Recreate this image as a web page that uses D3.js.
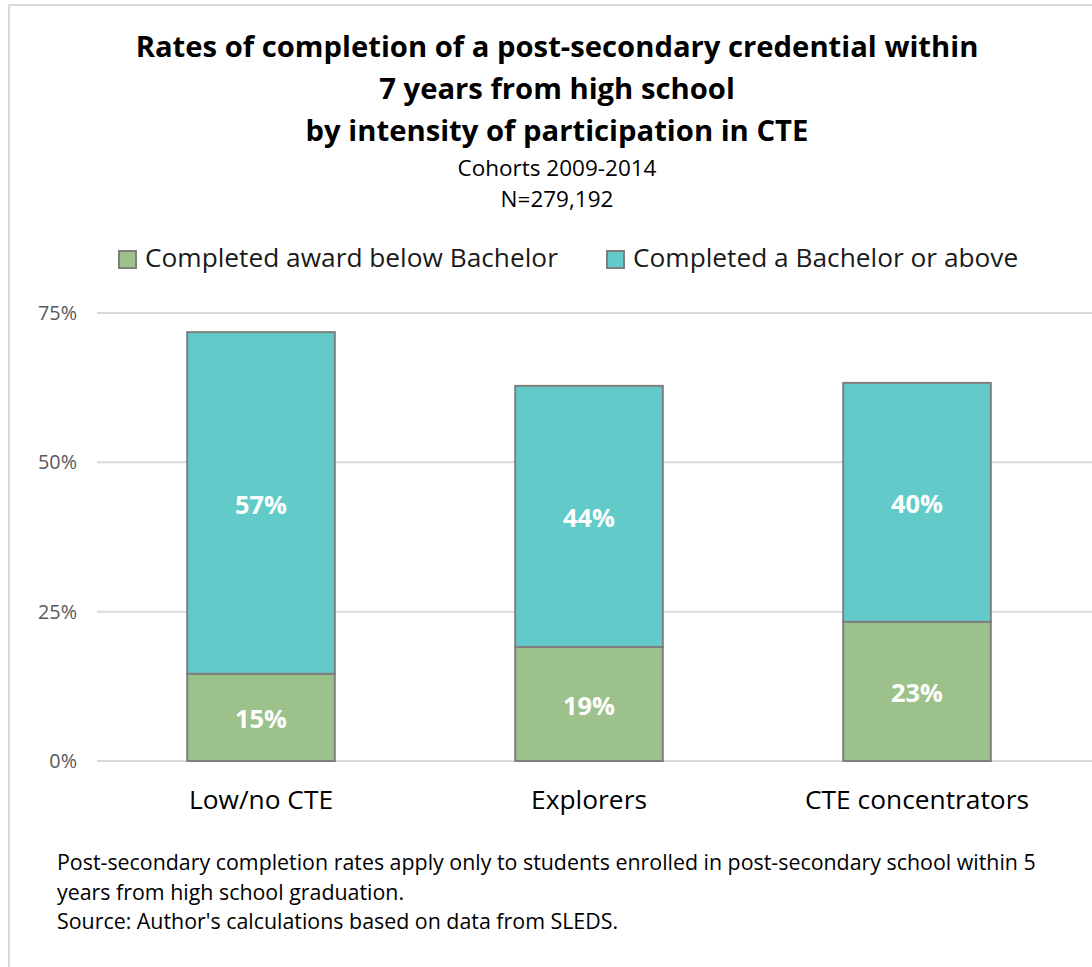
<!DOCTYPE html>
<html>
<head>
<meta charset="utf-8">
<script src="https://cdn.jsdelivr.net/npm/d3@7"></script>
<style>
  body { margin: 0; background: #fff; }
  text { font-family: "Open Sans", Lato, sans-serif; }
</style>
</head>
<body>
<div id="mount"></div>
<script>
// chart values
var categories = ['Low/no CTE', 'Explorers', 'CTE concentrators'];
var belowBachelor = [14.6, 19.1, 23.3];
var bachelorPlus = [57.2, 43.7, 40.0];
var belowLabels = ['15%', '19%', '23%'];
var bachelorLabels = ['57%', '44%', '40%'];
var seriesNames = ['Completed award below Bachelor', 'Completed a Bachelor or above'];
var yTicks = [0, 25, 50, 75];
var titleLines = ['Rates of completion of a post-secondary credential within', '7 years from high school', 'by intensity of participation in CTE'];
var subtitleLines = ['Cohorts 2009-2014', 'N=279,192'];
var noteLines = ['Post-secondary completion rates apply only to students enrolled in post-secondary school within 5',
  'years from high school graduation.',
  "Source: Author's calculations based on data from SLEDS."];

var W = 1092, H = 967;
var colors = ['#9dc18b', '#62cbc9'];

// scale the font of a text group so that its first item is as wide as in the picture
function fit(sel, target) {
  var node = sel.node();
  var fs = parseFloat(node.style.fontSize);
  var w = node.getComputedTextLength();
  sel.style('font-size', (fs * target / w).toFixed(2) + 'px');
}

var svg = d3.select('#mount').append('svg')
    .attr('width', W)
    .attr('height', H);

// chart frame
svg.append('rect')
    .attr('x', 9).attr('y', 5)
    .attr('width', W + 20).attr('height', H + 20)
    .attr('fill', '#fff')
    .attr('stroke', '#d9d9d9')
    .attr('stroke-width', 2);

// titles
var title = svg.selectAll('.title')
    .data(titleLines)
  .enter().append('text')
    .attr('class', 'title')
    .attr('x', 557)
    .attr('y', (d, i) => 57 + i * 42)
    .attr('text-anchor', 'middle')
    .style('font-size', '26px')
    .style('font-weight', 'bold')
    .style('fill', '#000')
    .text(d => d);
fit(title, 843);

var subtitle = svg.selectAll('.subtitle')
    .data(subtitleLines)
  .enter().append('text')
    .attr('class', 'subtitle')
    .attr('x', 557)
    .attr('y', (d, i) => 176 + i * 31)
    .attr('text-anchor', 'middle')
    .style('font-size', '18px')
    .style('fill', '#000')
    .text(d => d);
fit(subtitle, 199);

// legend
var legendX = [118, 606];
var legend = svg.selectAll('.legend')
    .data(seriesNames)
  .enter().append('g')
    .attr('class', 'legend')
    .attr('transform', (d, i) => `translate(${legendX[i]},250)`);
legend.append('rect')
    .attr('x', 1).attr('y', 1)
    .attr('width', 17).attr('height', 17)
    .attr('fill', (d, i) => colors[i])
    .attr('stroke', '#7f7f7f')
    .attr('stroke-width', 2);
var legendText = legend.append('text')
    .attr('x', 27).attr('y', 17)
    .style('font-size', '24px')
    .style('fill', '#1a1a1a')
    .text(d => d);
fit(legendText, 413);

// plot area
var margin = { top: 313, left: 97 };
var plotW = 984, plotH = 448;

var g = svg.append('g')
    .attr('transform', `translate(${margin.left},${margin.top})`);

var x = d3.scaleBand()
    .domain(categories)
    .range([0, plotW])
    .paddingInner(0.55)
    .paddingOuter(0.275);

var y = d3.scaleLinear()
    .domain([0, 75])
    .range([plotH, 0]);

// gridlines
g.selectAll('.grid')
    .data(yTicks)
  .enter().append('line')
    .attr('class', 'grid')
    .attr('x1', 0).attr('x2', W)
    .attr('y1', d => y(d)).attr('y2', d => y(d))
    .attr('stroke', '#d9d9d9')
    .attr('stroke-width', 2);

// y axis labels
var yAxis = d3.axisLeft(y).tickValues(yTicks).tickSize(0).tickPadding(20).tickFormat(d => d + '%');
var yText = g.append('g')
    .attr('class', 'y-axis')
    .call(yAxis)
    .call(a => a.select('.domain').remove())
    .selectAll('text')
    .style('font-family', '"Open Sans", sans-serif')
    .style('font-size', '17px')
    .style('fill', '#595959');
fit(yText.filter(d => d === 75), 39);
yText.style('font-size', yText.filter(d => d === 75).style('font-size'));

// x axis labels
var xAxis = d3.axisBottom(x).tickSize(0).tickPadding(29);
var xText = g.append('g')
    .attr('class', 'x-axis')
    .attr('transform', `translate(0,${plotH})`)
    .call(xAxis)
    .call(a => a.select('.domain').remove())
    .selectAll('text')
    .style('font-family', '"Open Sans", sans-serif')
    .style('font-size', '23px')
    .style('fill', '#000');
fit(xText.filter(d => d === 'CTE concentrators'), 224);
xText.style('font-size', xText.filter(d => d === 'CTE concentrators').style('font-size'));

// stacked bars
var rows = categories.map((c, i) => ({
  cat: c,
  below: belowBachelor[i],
  bach: bachelorPlus[i],
  belowLabel: belowLabels[i],
  bachLabel: bachelorLabels[i]
}));

g.selectAll('.bar-below')
    .data(rows)
  .enter().append('rect')
    .attr('class', 'bar-below')
    .attr('x', d => x(d.cat))
    .attr('width', x.bandwidth())
    .attr('y', d => y(d.below))
    .attr('height', d => y(0) - y(d.below))
    .attr('fill', colors[0])
    .attr('stroke', '#7f7f7f')
    .attr('stroke-width', 2);

g.selectAll('.bar-bach')
    .data(rows)
  .enter().append('rect')
    .attr('class', 'bar-bach')
    .attr('x', d => x(d.cat))
    .attr('width', x.bandwidth())
    .attr('y', d => y(d.below + d.bach))
    .attr('height', d => y(d.below) - y(d.below + d.bach))
    .attr('fill', colors[1])
    .attr('stroke', '#7f7f7f')
    .attr('stroke-width', 2);

// value labels
var labBelow = g.selectAll('.lab-below')
    .data(rows)
  .enter().append('text')
    .attr('class', 'lab-below')
    .attr('x', d => x(d.cat) + x.bandwidth() / 2)
    .attr('y', d => y(d.below / 2))
    .attr('dy', '0.42em')
    .attr('text-anchor', 'middle')
    .style('font-size', '20px')
    .style('font-weight', 'bold')
    .style('fill', '#fff')
    .text(d => d.belowLabel);

var labBach = g.selectAll('.lab-bach')
    .data(rows)
  .enter().append('text')
    .attr('class', 'lab-bach')
    .attr('x', d => x(d.cat) + x.bandwidth() / 2)
    .attr('y', d => y(d.below + d.bach / 2))
    .attr('dy', '0.42em')
    .attr('text-anchor', 'middle')
    .style('font-size', '20px')
    .style('font-weight', 'bold')
    .style('fill', '#fff')
    .text(d => d.bachLabel);
fit(labBach, 52);
labBelow.style('font-size', labBach.style('font-size'));

// footnote
var note = svg.selectAll('.note')
    .data(noteLines)
  .enter().append('text')
    .attr('class', 'note')
    .attr('x', 57)
    .attr('y', (d, i) => 870 + i * 29.5)
    .style('font-size', '18px')
    .style('fill', '#000')
    .text(d => d);
fit(note, 979);
</script>
</body>
</html>
